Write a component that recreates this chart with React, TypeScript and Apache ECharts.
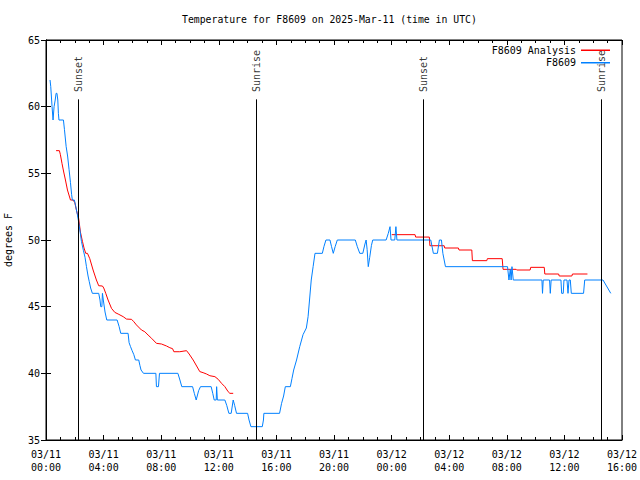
import React, { useEffect, useRef } from "react";
import * as echarts from "echarts";

// hours since 03/11 00:00 UTC, temperature in degrees F
const analysisEvening: [number, number][] = [
  [0.7, 56.7], [0.93, 56.7], [1.0, 56.4], [1.11, 55.75], [1.23, 55.1], [1.35, 54.5], [1.49, 53.75],
  [1.7, 53], [1.88, 53], [2.0, 52.8], [2.11, 52.25], [2.27, 51.6], [2.39, 50.6], [2.53, 49.9],
  [2.64, 49.4], [2.76, 49], [2.88, 49], [3.04, 48.6], [3.27, 47.75], [3.5, 47.0], [3.66, 46.57],
  [3.92, 46.55], [4.01, 46.4], [4.15, 46.0], [4.31, 45.5], [4.55, 44.87], [4.78, 44.57], [5.01, 44.45],
  [5.36, 44.25], [5.59, 44.07], [5.94, 44.05], [6.1, 43.87], [6.28, 43.63], [6.63, 43.25], [6.86, 43.12],
  [7.09, 42.87], [7.33, 42.63], [7.67, 42.25], [8.02, 42.2], [8.37, 42.05], [8.6, 41.92], [8.79, 41.85],
  [8.88, 41.62], [9.29, 41.62], [9.76, 41.7], [9.94, 41.45], [10.22, 41.0], [10.46, 40.55], [10.68, 40.13],
  [10.91, 40.05], [11.15, 39.95], [11.38, 39.82], [11.73, 39.75], [11.96, 39.55], [12.19, 39.25],
  [12.42, 39.0], [12.65, 38.62], [12.77, 38.5], [13.0, 38.5],
];

const analysisNextDay: [number, number][] = [
  [24.01, 50.4], [25.63, 50.4], [25.67, 50.22], [26.62, 50.22], [26.66, 49.57], [27.65, 49.57],
  [27.69, 49.4], [28.64, 49.4], [28.68, 49.25], [29.57, 49.25], [29.61, 48.45], [30.61, 48.45],
  [30.65, 48.6], [31.68, 48.6], [31.74, 47.8], [32.65, 47.8], [32.69, 47.75], [33.62, 47.75],
  [33.66, 47.95], [34.6, 47.95], [34.64, 47.45], [35.6, 47.45], [35.64, 47.3], [36.52, 47.3],
  [36.56, 47.45], [37.6, 47.45],
];

const observed: [number, number][] = [
  [0.28, 62], [0.33, 61.5], [0.42, 60], [0.49, 59], [0.56, 60], [0.64, 60.5], [0.7, 61], [0.76, 61],
  [0.82, 60.5], [0.86, 59.5], [0.9, 59], [1.21, 59], [1.28, 58.3], [1.4, 57], [1.5, 56.3], [1.6, 55.3],
  [1.7, 54.3], [1.78, 53.4], [1.83, 53], [1.97, 53], [2.05, 52.6], [2.18, 51.9], [2.32, 51], [2.46, 49.9],
  [2.6, 49.2], [2.71, 48.7], [2.81, 48], [2.92, 47.3], [3.0, 46.9], [3.1, 46.4], [3.22, 46], [3.66, 46],
  [3.75, 45.5], [3.8, 45], [3.88, 45], [3.92, 46], [3.98, 45.5], [4.1, 44.6], [4.22, 44], [4.94, 44],
  [5.08, 43.5], [5.19, 43], [5.7, 43], [5.77, 42.3], [5.87, 42], [5.98, 41.7], [6.1, 41.4], [6.21, 41],
  [6.44, 41], [6.52, 40.6], [6.6, 40.25], [6.77, 40], [7.63, 40], [7.67, 39], [7.81, 39], [7.88, 40],
  [9.16, 40], [9.3, 39.5], [9.43, 39], [10.18, 39], [10.3, 38.5], [10.43, 38], [10.6, 38.7], [10.73, 39],
  [11.47, 39], [11.58, 38.5], [11.68, 38], [11.82, 38], [11.85, 39], [11.9, 38], [12.42, 38], [12.55, 37.6],
  [12.7, 37], [12.86, 37], [13.0, 38], [13.1, 37.6], [13.23, 37], [14.0, 37], [14.1, 36.5], [14.23, 36],
  [15.02, 36], [15.1, 36.5], [15.13, 37], [16.22, 37], [16.36, 37.75], [16.5, 38.3], [16.62, 39],
  [16.97, 39], [17.08, 39.6], [17.2, 40.25], [17.4, 41], [17.62, 42], [17.85, 42.9], [18.08, 43.4],
  [18.2, 44.25], [18.3, 45.5], [18.42, 47], [18.55, 48], [18.68, 49], [19.19, 49], [19.3, 49.5],
  [19.44, 50], [19.72, 50], [19.83, 49.5], [19.95, 49], [20.08, 49.5], [20.23, 50], [21.48, 50],
  [21.62, 49.5], [21.79, 49], [22.0, 49], [22.15, 49.7], [22.23, 50], [22.3, 49.3], [22.38, 48],
  [22.48, 48.7], [22.6, 49.6], [22.69, 50], [23.62, 50], [23.77, 50.5], [23.89, 51], [23.96, 50],
  [24.22, 50], [24.3, 51], [24.37, 50], [26.72, 50], [26.9, 49], [27.18, 49], [27.32, 50], [27.46, 50],
  [27.56, 49], [27.74, 48], [32.05, 48], [32.15, 47], [32.24, 47.8], [32.3, 47], [32.36, 48], [32.45, 47],
  [34.44, 47], [34.48, 46], [34.53, 47], [34.97, 47], [35.02, 46], [35.08, 47], [35.76, 47], [35.81, 46],
  [35.92, 46], [35.97, 47], [36.18, 47], [36.25, 46], [36.32, 47], [36.41, 47], [36.48, 46], [37.33, 46],
  [37.41, 47], [38.68, 47], [39.22, 46],
];

const sunEvents = ["Sunset", "Sunrise", "Sunset", "Sunrise"];
const sunHours = [2.27, 14.6, 26.2, 38.56];

const xTickLabels = [
  "03/11\n00:00", "03/11\n04:00", "03/11\n08:00", "03/11\n12:00", "03/11\n16:00", "03/11\n20:00",
  "03/12\n00:00", "03/12\n04:00", "03/12\n08:00", "03/12\n12:00", "03/12\n16:00",
];

const FONT = "DejaVu Sans Mono";

export default function App() {
  const ref = useRef<HTMLDivElement>(null);
  useEffect(() => {
    if (!ref.current) return;
    const chart = echarts.init(ref.current, null, { renderer: "svg" });
    const tickCommon = {
      axisLine: { show: true, lineStyle: { color: "#000", width: 1 } },
      axisTick: { show: true, inside: true, length: 5, lineStyle: { color: "#000", width: 1 } },
      splitLine: { show: false },
    };
    chart.setOption({
      animation: false,
      backgroundColor: "#fff",
      title: {
        text: "Temperature for F8609 on 2025-Mar-11 (time in UTC)",
        left: 182,
        top: 14,
        padding: 0,
        textStyle: { fontFamily: FONT, fontSize: 9.8, fontWeight: "normal", color: "#000" },
      },
      legend: {
        data: ["F8609 Analysis", "F8609"],
        orient: "vertical",
        align: "right",
        right: 30,
        top: 44,
        padding: 0,
        itemGap: 0,
        itemWidth: 29,
        itemHeight: 1.5,
        icon: "rect",
        selectedMode: false,
        textStyle: { fontFamily: FONT, fontSize: 10, color: "#000", lineHeight: 12.5 },
      },
      grid: {
        left: 46,
        right: 18,
        top: 40,
        bottom: 40,
        outerBoundsMode: "none",
        containLabel: false,
        show: true,
        borderColor: "#000",
        borderWidth: 1,
      },
      xAxis: [
        {
          type: "value",
          min: 0,
          max: 40,
          interval: 4,
          position: "bottom",
          ...tickCommon,
          minorTick: { show: true, splitNumber: 4, length: 3, lineStyle: { color: "#000" } },
          axisLabel: {
            fontFamily: FONT,
            fontSize: 10,
            color: "#000",
            lineHeight: 13,
            margin: 8,
            showMinLabel: true,
            showMaxLabel: true,
            formatter: (v: number) => xTickLabels[Math.round(v / 4)] ?? "",
          },
        },
        {
          type: "value",
          min: 0,
          max: 40,
          interval: 4,
          position: "top",
          ...tickCommon,
          minorTick: { show: true, splitNumber: 4, length: 3, lineStyle: { color: "#000" } },
          axisLabel: { show: false },
        },
      ],
      yAxis: [
        {
          type: "value",
          min: 35,
          max: 65,
          interval: 5,
          position: "left",
          ...tickCommon,
          name: "degrees F",
          nameLocation: "middle",
          nameRotate: 90,
          nameGap: 33,
          nameTextStyle: { fontFamily: FONT, fontSize: 10, color: "#000" },
          axisLabel: { fontFamily: FONT, fontSize: 10, color: "#000", margin: 6 },
        },
        {
          type: "value",
          min: 35,
          max: 65,
          interval: 5,
          position: "right",
          ...tickCommon,
          axisLabel: { show: false },
        },
      ],
      series: [
        {
          name: "sun",
          type: "scatter",
          symbolSize: 0,
          z: 1,
          data: sunHours.map((h, i) => ({ value: [h, 61.1], name: sunEvents[i] })),
          label: {
            show: true,
            position: "inside",
            rotate: 90,
            align: "left",
            verticalAlign: "middle",
            formatter: (p: any) => p.name,
            fontFamily: FONT,
            fontSize: 10,
            color: "#000",
          },
          markLine: {
            silent: true,
            symbol: ["none", "none"],
            label: { show: false },
            lineStyle: { color: "#000", width: 1, type: "solid" },
            data: sunHours.map((h) => [{ coord: [h, 60.55] }, { coord: [h, 35] }]),
          },
        },
        {
          name: "F8609 Analysis",
          type: "line",
          showSymbol: false,
          connectNulls: false,
          color: "#ff0000",
          lineStyle: { color: "#ff0000", width: 1 },
          data: [...analysisEvening, [18, null], ...analysisNextDay],
          z: 2,
        },
        {
          name: "F8609",
          type: "line",
          showSymbol: false,
          color: "#0080ff",
          lineStyle: { color: "#0080ff", width: 1 },
          data: observed,
          z: 3,
        },
      ],
    });
    return () => chart.dispose();
  }, []);
  return <div ref={ref} style={{ position: "fixed", left: 0, top: 0, width: 640, height: 480 }} />;
}
